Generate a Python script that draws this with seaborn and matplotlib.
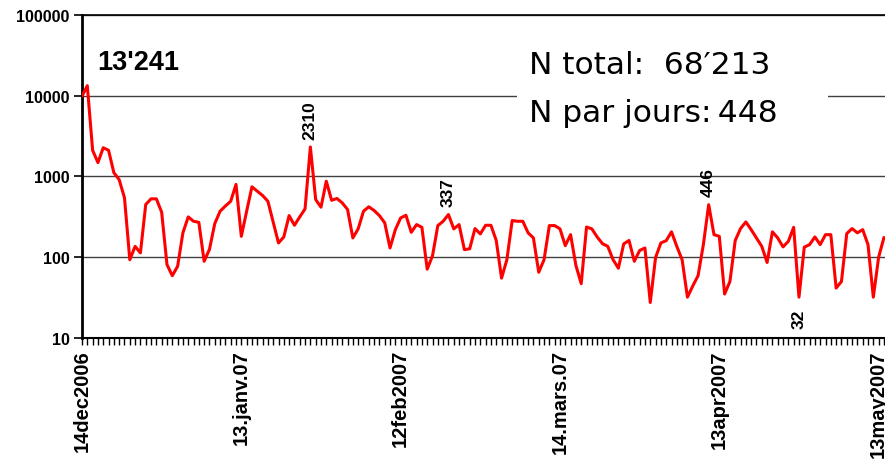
import matplotlib
matplotlib.use("Agg")
import numpy as np
import pandas as pd
import matplotlib.pyplot as plt
import seaborn as sns
from matplotlib.patches import Rectangle
from matplotlib.ticker import FixedLocator, NullFormatter

# Nombre de cas par jour, du 14 déc. 2006 au 13 mai 2007
daily_counts = [
    9800, 13241, 2100, 1480, 2260, 2100, 1110, 910, 542, 93,
    136, 113, 448, 527, 527, 360, 81, 59, 77, 200,
    315, 278, 270, 89, 125, 260, 370, 430, 492, 795,
    181, 370, 743, 655, 580, 492, 270, 150, 178, 327,
    248, 315, 396, 2310, 517, 415, 871, 506, 532, 470,
    389, 173, 224, 370, 420, 378, 327, 266, 130, 219,
    306, 330, 203, 253, 234, 71, 104, 246, 278, 337,
    224, 253, 124, 127, 226, 194, 248, 248, 161, 55,
    93, 284, 278, 278, 200, 173, 65, 93, 246, 246,
    224, 139, 190, 79, 47, 236, 224, 178, 147, 136,
    93, 73, 146, 161, 89, 121, 130, 27.5, 99, 150,
    160, 206, 136, 93, 32, 44, 59, 143, 446, 190,
    181, 35, 50, 161, 226, 273, 219, 173, 136, 86,
    206, 173, 134, 157, 234, 32, 133, 143, 178, 143,
    190, 190, 41.5, 50, 196, 226, 200, 219, 143, 32,
    100, 175,
]
tick_days = [0, 30, 60, 90, 120, 150]
tick_labels = ["14dec2006", "13.janv.07", "12feb2007", "14.mars.07", "13apr2007", "13may2007"]

# pics annotés (jour, au-dessus ou en dessous de la courbe)
peak_days = [43, 69, 118, 135]
peak_above = [True, True, True, False]

first_day_label = "13'241"
total_text = "N total:  68\u2032213"
per_day_text = "N par jours:\u2009448"

df = pd.DataFrame({"day": np.arange(len(daily_counts)), "n": daily_counts})

sns.set_style("white")
plt.rcParams["font.family"] = ["Liberation Sans", "DejaVu Sans"]
plt.rcParams["text.color"] = "black"
plt.rcParams["xtick.color"] = "black"
plt.rcParams["ytick.color"] = "black"

fig = plt.figure(figsize=(8.85, 4.6), dpi=100)
ax = fig.add_axes([82 / 885, 1 - 339 / 460, 1 - 82 / 885, (339 - 15.7) / 460])

sns.lineplot(data=df, x="day", y="n", color="#ff0000", linewidth=2.2, ax=ax, zorder=3)

ax.set_yscale("log")
ax.set_ylim(10, 100000)
ax.set_xlim(0, 151.2)

yt = [10, 100, 1000, 10000, 100000]
ax.yaxis.set_major_locator(FixedLocator(yt))
ax.set_yticklabels([str(v) for v in yt], fontsize=11.5, fontweight="bold")
ax.yaxis.set_minor_formatter(NullFormatter())
ax.tick_params(axis="y", which="minor", length=0)
ax.tick_params(axis="y", which="major", direction="out", length=6, width=1.2, color="black", left=True, pad=3)

ax.set_xticks(tick_days)
ax.set_xticklabels(tick_labels, rotation=90, fontsize=14.5, fontweight="bold")
ax.xaxis.set_minor_locator(FixedLocator(df["day"].values))
ax.tick_params(axis="x", which="both", direction="out", length=5, width=1, color="black", bottom=True, pad=3)

ax.grid(axis="y", which="major", color="#404040", linewidth=1)
ax.set_axisbelow(True)
for side in ["left", "bottom", "top"]:
    ax.spines[side].set_visible(True)
    ax.spines[side].set_color("black")
ax.spines["left"].set_linewidth(2)
ax.spines["bottom"].set_linewidth(1.5)
ax.spines["top"].set_linewidth(1.2)
ax.spines["right"].set_visible(False)
ax.set_xlabel("")
ax.set_ylabel("")

# valeurs des pics
for d, above in zip(peak_days, peak_above):
    v = daily_counts[d]
    ax.annotate(f"{v:g}", xy=(d, v), xytext=(0, 6 if above else -8), textcoords="offset points",
                rotation=90, ha="center", va="bottom" if above else "top",
                fontsize=12.5, fontweight="bold", zorder=4)

ax.text(0.019, 0.832, first_day_label, transform=ax.transAxes, fontsize=19.5,
        fontweight="bold", va="baseline", ha="left")

# encadré blanc avec les totaux
ax.add_patch(Rectangle((0.542, 0.60), 0.387, 0.33, transform=ax.transAxes,
                       facecolor="white", edgecolor="none", zorder=1.5))
ax.text(0.557, 0.82, total_text, transform=ax.transAxes, fontsize=22.5,
        family=["DejaVu Sans"], va="baseline", ha="left", zorder=4)
ax.text(0.557, 0.671, per_day_text, transform=ax.transAxes, fontsize=22.5,
        family=["DejaVu Sans"], va="baseline", ha="left", zorder=4)

fig.savefig("out.png", dpi=100)
